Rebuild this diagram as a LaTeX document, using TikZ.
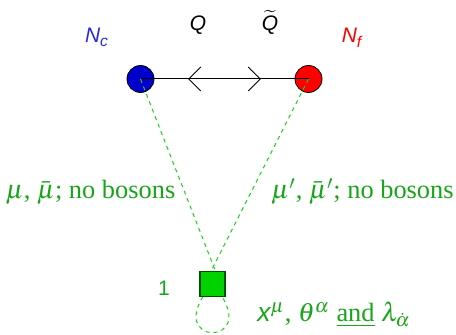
\documentclass[tikz,border=0pt]{standalone}
\usepackage{mathptmx}
\usepackage{fontspec}
\setmainfont{Liberation Serif}
\setsansfont{Liberation Sans}
\usetikzlibrary{arrows.meta,decorations.markings}

\definecolor{nodeblue}{RGB}{0,0,205}
\definecolor{labelblue}{RGB}{40,40,225}
\definecolor{fermigreen}{RGB}{25,165,25}
\definecolor{dashgreen}{RGB}{20,215,20}
\definecolor{boxgreen}{RGB}{0,210,0}
\definecolor{edgegreen}{RGB}{0,80,0}

\begin{document}
\begin{tikzpicture}[
  x=0.5pt, y=-0.5pt,
  gauge/.style={
    draw=black, line width=0.4pt, circle, minimum size=13.5pt, inner sep=0pt
  },
  flavbox/.style={
    draw=edgegreen, line width=0.6pt, fill=boxgreen, rectangle,
    minimum size=12.5pt, inner sep=0pt
  },
  fermi/.style={dashgreen, line width=0.5pt, dash pattern=on 2pt off 2pt},
  sflbl/.style={font=\sffamily\itshape\fontsize{10.5}{12}\selectfont},
  grlbl/.style={text=fermigreen, font=\fontsize{13.2}{15}\selectfont, inner sep=0pt},
  bifund/.style={
    line width=0.5pt,
    decoration={markings,
      mark=at position 0.283 with {\arrowreversed{Straight Barb[length=6pt,width=12pt,line width=0.5pt]}},
      mark=at position 0.717 with {\arrow{Straight Barb[length=6pt,width=12pt,line width=0.5pt]}}},
    postaction={decorate}
  },
]
\useasboundingbox (0,0) rectangle (456,335);

% gauge and flavour nodes
\node[gauge, fill=nodeblue] (nc) at (140.5,79) {};
\node[gauge, fill=red]      (nf) at (308.5,79) {};
\coordinate (sqc) at (212.5,284);

% bifundamental line
\draw[bifund] (nc.center) -- (nf.center);

% fermionic lines
\draw[fermi] (nc.center) -- ([xshift=4pt]sqc);
\draw[fermi] (nf.center) -- ([xshift=-4pt]sqc);
\draw[fermi] (sqc) .. controls +(-57,65) and +(57,65) .. (sqc);

\node[flavbox] (sq) at (sqc) {};

% labels
\node[sflbl, text=labelblue, anchor=base] (ncl) at (97,43) {N\textsubscript{c}};
\node[sflbl, text=red, anchor=base]       (nfl) at (352,43) {N\textsubscript{f}};
\node[sflbl, anchor=base] (ql)  at (198,31) {Q};
\node[sflbl, anchor=base] (qtl) at (270,31) {$\widetilde{\hbox{\sffamily\itshape Q}}$};
\node[text=fermigreen, font=\sffamily\fontsize{10.5}{12}\selectfont] (one) at (164,288) {1};

\node[grlbl, anchor=base] (mul) at (90.5,199) {$\mu$, $\bar{\mu}$; no bosons};
\node[grlbl, anchor=base] (mur) at (362.5,199) {$\mu'$, $\bar{\mu}'$; no bosons};
\node[grlbl, anchor=base west] (xl) at (257,322)
  {{\sffamily\itshape x}$^{\mu}$, $\theta^{\alpha}$ \underline{and} $\lambda_{\dot{\alpha}}$};

\end{tikzpicture}
\end{document}
